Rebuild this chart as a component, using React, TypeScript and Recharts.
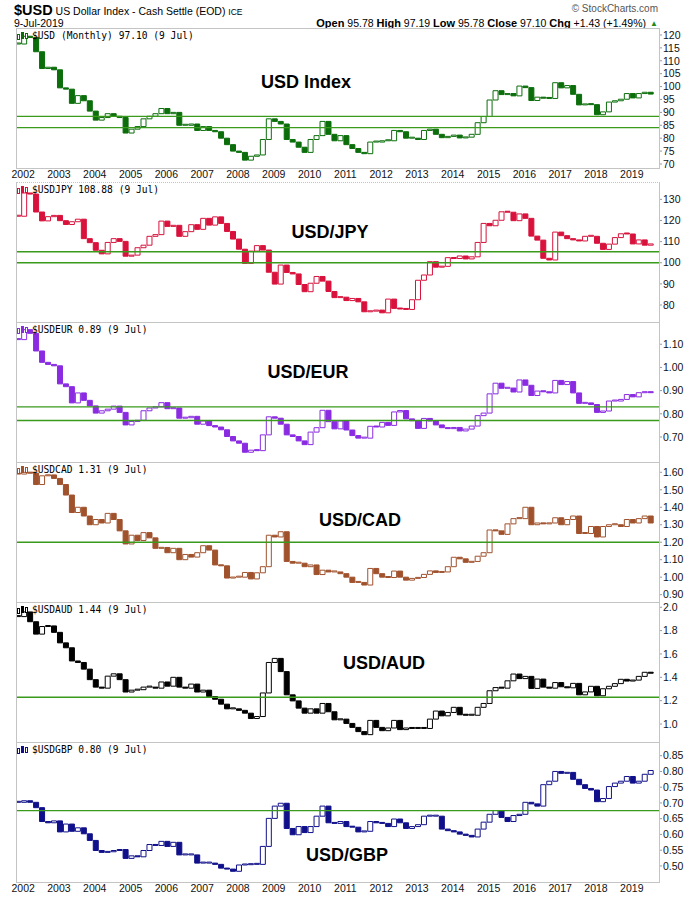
import React from "react";
import { ComposedChart, Bar, Cell, XAxis, YAxis, ReferenceLine } from "recharts";

// Bi-monthly closes (Nov 2001, Jan 2002, Mar 2002 ... Jul 2019)
const USD_IDX = [
  116.5,
  119.5, 119.0, 113.5, 107.0, 107.5, 106.5,
  99.5, 99.0, 93.5, 96.5, 94.5, 90.5,
  87.0, 88.0, 89.5, 88.5, 88.0, 82.0,
  83.5, 84.5, 87.5, 88.5, 89.5, 91.5,
  89.5, 90.0, 85.0, 85.0, 85.5, 83.0,
  84.5, 83.0, 82.5, 80.0, 77.5, 75.0,
  74.5, 71.5, 73.0, 73.5, 79.5, 87.5,
  86.5, 85.5, 79.5, 78.5, 76.5, 74.5,
  79.5, 81.0, 86.5, 81.5, 79.0, 81.0,
  77.5, 76.0, 74.5, 74.0, 78.5, 78.5,
  79.0, 79.0, 83.0, 82.5, 80.0, 80.0,
  79.5, 83.0, 83.5, 81.5, 80.2, 80.7,
  81.2, 80.1, 80.4, 81.5, 86.0, 88.4,
  94.8, 98.4, 96.9, 97.3, 96.4, 100.2,
  99.6, 94.6, 95.9, 95.5, 95.4, 101.5,
  99.5, 100.4, 97.0, 92.9, 93.1, 93.0,
  89.1, 90.2, 94.0, 94.5, 95.1, 97.3,
  95.6, 97.3, 97.8, 97.1,
];

const USD_JPY = [
  122.0,
  133.0, 132.5, 124.0, 119.8, 121.8, 122.4,
  119.9, 118.1, 119.4, 120.6, 111.4, 109.5,
  105.9, 104.2, 109.6, 111.4, 110.1, 103.1,
  103.6, 107.1, 108.3, 112.5, 113.3, 119.7,
  117.2, 117.7, 112.5, 114.7, 118.0, 115.8,
  121.0, 117.8, 121.7, 118.6, 114.8, 111.2,
  106.4, 99.7, 105.5, 108.1, 106.0, 95.5,
  89.9, 98.9, 95.4, 94.7, 89.7, 86.3,
  90.3, 93.5, 91.3, 86.4, 83.5, 83.7,
  82.1, 83.1, 81.5, 76.8, 77.1, 77.6,
  76.3, 82.8, 78.4, 78.1, 77.9, 82.5,
  91.7, 94.2, 100.5, 97.9, 98.3, 102.4,
  102.0, 103.2, 101.8, 102.8, 109.6, 118.6,
  117.5, 120.1, 124.1, 123.9, 119.9, 123.1,
  121.0, 112.6, 110.7, 102.1, 101.3, 114.5,
  112.8, 111.4, 110.8, 110.3, 112.5, 112.5,
  109.2, 106.3, 108.8, 111.9, 113.7, 113.6,
  108.9, 110.8, 108.3, 108.9,
];

const USD_EUR = [
  1.12,
  1.163, 1.147, 1.071, 1.022, 1.013, 1.007,
  0.929, 0.917, 0.847, 0.89, 0.858, 0.834,
  0.803, 0.813, 0.82, 0.833, 0.806, 0.752,
  0.767, 0.772, 0.813, 0.825, 0.83, 0.848,
  0.822, 0.825, 0.781, 0.783, 0.789, 0.755,
  0.769, 0.749, 0.743, 0.731, 0.702, 0.683,
  0.673, 0.634, 0.643, 0.641, 0.709, 0.787,
  0.781, 0.755, 0.709, 0.702, 0.683, 0.667,
  0.721, 0.74, 0.815, 0.766, 0.735, 0.769,
  0.73, 0.706, 0.695, 0.695, 0.746, 0.743,
  0.763, 0.75, 0.808, 0.814, 0.778, 0.77,
  0.737, 0.78, 0.769, 0.752, 0.74, 0.736,
  0.741, 0.726, 0.734, 0.747, 0.792, 0.803,
  0.886, 0.932, 0.91, 0.911, 0.894, 0.946,
  0.923, 0.879, 0.898, 0.895, 0.89, 0.944,
  0.926, 0.939, 0.89, 0.845, 0.847, 0.84,
  0.806, 0.812, 0.855, 0.855, 0.862, 0.883,
  0.873, 0.891, 0.895, 0.891,
];

const USD_CAD = [
  1.59,
  1.6, 1.595, 1.53, 1.58, 1.585, 1.565,
  1.53, 1.47, 1.37, 1.4, 1.35, 1.3,
  1.33, 1.31, 1.365, 1.33, 1.265, 1.19,
  1.24, 1.21, 1.255, 1.225, 1.165, 1.17,
  1.14, 1.165, 1.1, 1.13, 1.115, 1.14,
  1.18, 1.155, 1.07, 1.065, 0.995, 1.0,
  1.0, 1.027, 0.99, 1.025, 1.06, 1.24,
  1.23, 1.26, 1.09, 1.08, 1.08, 1.06,
  1.07, 1.015, 1.04, 1.03, 1.03, 1.02,
  1.0, 0.97, 0.97, 0.955, 1.05, 1.02,
  1.0, 0.998, 1.035, 1.0, 0.983, 0.993,
  0.998, 1.016, 1.036, 1.027, 1.03, 1.06,
  1.114, 1.105, 1.085, 1.09, 1.12, 1.14,
  1.27, 1.265, 1.245, 1.305, 1.335, 1.335,
  1.4, 1.3, 1.31, 1.305, 1.31, 1.34,
  1.3, 1.33, 1.35, 1.25, 1.25, 1.29,
  1.23, 1.29, 1.3, 1.3, 1.29, 1.33,
  1.31, 1.335, 1.35, 1.31,
];

const USD_AUD = [
  1.92,
  1.96, 1.876, 1.77, 1.835, 1.84, 1.785,
  1.695, 1.653, 1.54, 1.527, 1.47, 1.38,
  1.316, 1.307, 1.41, 1.43, 1.38, 1.274,
  1.29, 1.294, 1.316, 1.316, 1.307, 1.36,
  1.324, 1.4, 1.316, 1.307, 1.342, 1.274,
  1.29, 1.235, 1.212, 1.17, 1.13, 1.13,
  1.117, 1.093, 1.047, 1.064, 1.266, 1.527,
  1.562, 1.449, 1.25, 1.198, 1.136, 1.093,
  1.13, 1.093, 1.176, 1.105, 1.036, 1.042,
  1.005, 0.971, 0.935, 0.909, 1.031, 0.971,
  0.943, 0.966, 1.031, 0.952, 0.966, 0.962,
  0.962, 0.962, 1.042, 1.111, 1.07, 1.099,
  1.143, 1.079, 1.075, 1.075, 1.143, 1.176,
  1.285, 1.312, 1.307, 1.37, 1.428, 1.389,
  1.408, 1.305, 1.385, 1.316, 1.307, 1.355,
  1.319, 1.31, 1.348, 1.25, 1.275, 1.323,
  1.242, 1.302, 1.323, 1.346, 1.383, 1.368,
  1.376, 1.408, 1.443, 1.435,
];

const USD_GBP = [
  0.702,
  0.707, 0.702, 0.685, 0.641, 0.637, 0.643,
  0.608, 0.633, 0.61, 0.621, 0.602, 0.581,
  0.549, 0.543, 0.545, 0.549, 0.552, 0.524,
  0.532, 0.529, 0.549, 0.568, 0.565, 0.578,
  0.562, 0.575, 0.535, 0.535, 0.535, 0.509,
  0.509, 0.509, 0.505, 0.493, 0.49, 0.483,
  0.503, 0.504, 0.505, 0.505, 0.562, 0.651,
  0.69, 0.699, 0.619, 0.599, 0.625, 0.606,
  0.625, 0.658, 0.69, 0.637, 0.635, 0.641,
  0.625, 0.623, 0.608, 0.61, 0.641, 0.637,
  0.635, 0.625, 0.649, 0.637, 0.619, 0.625,
  0.631, 0.658, 0.658, 0.658, 0.617, 0.612,
  0.608, 0.601, 0.597, 0.592, 0.617, 0.639,
  0.664, 0.676, 0.654, 0.641, 0.66, 0.664,
  0.702, 0.697, 0.69, 0.758, 0.769, 0.8,
  0.794, 0.797, 0.775, 0.758, 0.746, 0.741,
  0.704, 0.714, 0.752, 0.763, 0.769, 0.784,
  0.763, 0.769, 0.791, 0.803,
];

const YEARS = [
  2002, 2003, 2004, 2005, 2006, 2007, 2008, 2009, 2010,
  2011, 2012, 2013, 2014, 2015, 2016, 2017, 2018, 2019,
];

// mid-month positions: Nov 2001, then every second month
const DATES = USD_IDX.map((_, i) => 2001 + (10.5 + i * 2) / 12);

const X_DOMAIN = [2001.8, 2019.76];
const LINE_GREEN = "#3a9a1c";
const SANS = "'Liberation Sans', Arial, sans-serif";

const PANELS = [
  {
    values: USD_IDX, color: "#0b6e0b", top: 28, domain: [68.45, 122.7],
    ticks: [70, 75, 80, 85, 90, 95, 100, 105, 110, 115, 120], digits: 0,
    lines: [88.45, 84.1], legend: "$USD (Monthly) 97.10 (9 Jul)",
    title: "USD Index", tx: 306, ty: 82, xAxis: 16,
  },
  {
    values: USD_JPY, color: "#d8123c", top: 182, domain: [71.96, 138.2],
    ticks: [80, 90, 100, 110, 120, 130], digits: 0,
    lines: [105.2, 100], legend: "$USDJPY 108.88 (9 Jul)",
    title: "USD/JPY", tx: 330, ty: 232, dotted: true,
  },
  {
    values: USD_EUR, color: "#8a2be2", top: 322, domain: [0.592, 1.196],
    ticks: [0.7, 0.8, 0.9, 1.0, 1.1], digits: 2,
    lines: [0.83, 0.771], legend: "$USDEUR 0.89 (9 Jul)",
    title: "USD/EUR", tx: 308, ty: 372,
  },
  {
    values: USD_CAD, color: "#a0522d", top: 462, domain: [0.858, 1.659],
    ticks: [0.9, 1.0, 1.1, 1.2, 1.3, 1.4, 1.5, 1.6], digits: 2,
    lines: [1.2], legend: "$USDCAD 1.31 (9 Jul)",
    title: "USD/CAD", tx: 360, ty: 520,
  },
  {
    values: USD_AUD, color: "#000000", top: 602, domain: [0.846, 2.045],
    ticks: [1.0, 1.2, 1.4, 1.6, 1.8, 2.0], digits: 1,
    lines: [1.229], legend: "$USDAUD 1.44 (9 Jul)",
    title: "USD/AUD", tx: 384, ty: 663,
  },
  {
    values: USD_GBP, color: "#10108a", top: 742, domain: [0.449, 0.8935],
    ticks: [0.5, 0.55, 0.6, 0.65, 0.7, 0.75, 0.8, 0.85], digits: 2,
    lines: [0.6756], legend: "$USDGBP 0.80 (9 Jul)",
    title: "USD/GBP", tx: 347, ty: 855, xAxis: 18,
  },
];

function LegendIcon({ color }: { color: string }) {
  return (
    <svg width={12} height={9} style={{ position: "absolute", left: 17, top: 4 }}>
      <rect x={0.5} y={2.5} width={2} height={5} fill="#fff" stroke={color} />
      <rect x={4.5} y={0.5} width={2} height={6} fill={color} stroke={color} />
      <rect x={8.5} y={1.5} width={2} height={5} fill="#fff" stroke={color} />
    </svg>
  );
}

function Panel({ p }: { p: any }) {
  const rows = DATES.map((t, i) => {
    const c = p.values[i];
    const o = i === 0 ? c : p.values[i - 1];
    return { t, range: [Math.min(o, c), Math.max(o, c)], up: c >= o };
  });
  const axisH = p.xAxis || 0;
  const h = 140 + axisH;

  return (
    <div style={{ position: "absolute", left: 0, top: p.top, width: 700, height: h }}>
      <ComposedChart
        width={700}
        height={h}
        data={rows}
        margin={{ top: 0, right: 0, bottom: 0, left: 16 }}
      >
        <XAxis
          dataKey="t"
          type="number"
          domain={X_DOMAIN}
          allowDataOverflow
          ticks={YEARS}
          interval={0}
          hide={!axisH}
          height={axisH || 1}
          axisLine={false}
          tickLine={false}
          tickSize={2}
          tickMargin={1}
          tick={{ fontSize: 10.5, fill: "#111", fontFamily: SANS }}
        />
        <YAxis
          orientation="right"
          width={41}
          domain={p.domain}
          allowDataOverflow
          ticks={p.ticks}
          interval={0}
          tickFormatter={(v: number) => v.toFixed(p.digits)}
          axisLine={false}
          tickSize={3}
          tickMargin={1}
          tickLine={{ stroke: "#999" }}
          tick={{ fontSize: 10.5, fill: "#111", fontFamily: SANS }}
        />
        {p.lines.map((v: number) => (
          <ReferenceLine key={v} y={v} stroke={LINE_GREEN} strokeWidth={1.4} />
        ))}
        <Bar dataKey="range" barSize={5} minPointSize={1} isAnimationActive={false}>
          {rows.map((r, i) => (
            <Cell key={i} fill={r.up ? "#ffffff" : p.color} stroke={p.color} strokeWidth={1} />
          ))}
        </Bar>
      </ComposedChart>

      <div
        style={{
          position: "absolute", left: 16, top: 0, width: 644, height: 141,
          boxSizing: "border-box", border: "1px solid #c4c4c4",
          borderTopStyle: p.dotted ? "dotted" : "solid", pointerEvents: "none",
        }}
      />
      <LegendIcon color={p.color} />
      <div
        style={{
          position: "absolute", left: 32, top: 2, fontSize: 9.6, lineHeight: "12px",
          fontFamily: "'DejaVu Sans Mono', monospace", color: "#000", whiteSpace: "nowrap",
        }}
      >
        {p.legend}
      </div>
      <div
        style={{
          position: "absolute", left: p.tx - 100, top: p.ty - p.top - 11, width: 200,
          textAlign: "center", fontSize: 18, lineHeight: "22px", fontWeight: "bold",
          fontFamily: SANS, color: "#000",
        }}
      >
        {p.title}
      </div>
    </div>
  );
}

export default function App() {
  return (
    <div
      style={{
        position: "absolute", left: 0, top: 0, width: 700, height: 900,
        background: "#fff", overflow: "hidden", fontFamily: SANS,
      }}
    >
      <div style={{ position: "absolute", left: 14, top: 1, whiteSpace: "nowrap", lineHeight: "18px" }}>
        <span style={{ fontSize: 14.5, fontWeight: "bold" }}>$USD</span>
        <span style={{ fontSize: 10.5 }}> US Dollar Index - Cash Settle (EOD) </span>
        <span style={{ fontSize: 8.5 }}>ICE</span>
      </div>
      <div style={{ position: "absolute", left: 14, top: 18, fontSize: 10.5, lineHeight: "11px" }}>
        9-Jul-2019
      </div>
      <div
        style={{
          position: "absolute", right: 42, top: 3, fontSize: 10, lineHeight: "11px",
          color: "#555", whiteSpace: "nowrap",
        }}
      >
        © StockCharts.com
      </div>
      <div
        style={{
          position: "absolute", right: 54, top: 18, fontSize: 10.5, lineHeight: "11px",
          whiteSpace: "nowrap",
        }}
      >
        <b style={{ fontSize: 11 }}>Open</b> 95.78 <b style={{ fontSize: 11 }}>High</b> 97.19{" "}
        <b style={{ fontSize: 11 }}>Low</b> 95.78 <b style={{ fontSize: 11 }}>Close</b> 97.10{" "}
        <b style={{ fontSize: 11 }}>Chg</b> +1.43 (+1.49%)
      </div>
      <div
        style={{
          position: "absolute", left: 650, top: 19, fontSize: 8, lineHeight: "9px",
          color: "#1f8a1f",
        }}
      >
        ▲
      </div>
      {PANELS.map((p) => (
        <Panel key={p.title} p={p} />
      ))}
    </div>
  );
}
